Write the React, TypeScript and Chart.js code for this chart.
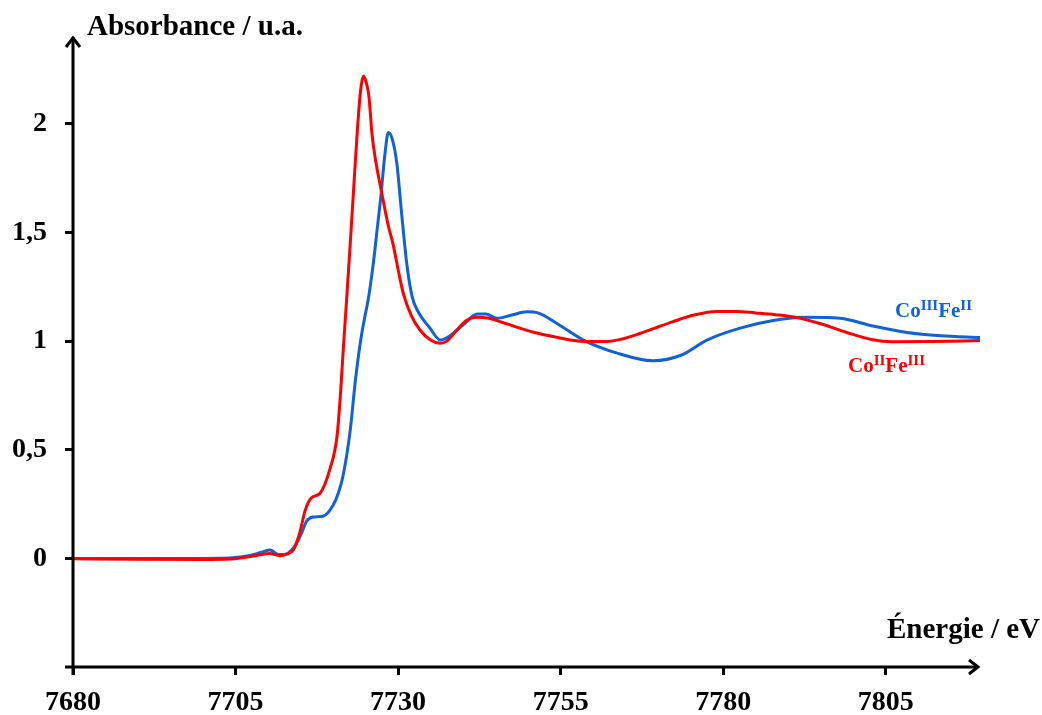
import React, { useEffect, useRef } from "react";
import { Chart, registerables } from "chart.js";

Chart.register(...registerables);

// CoII FeIII (red)
const redEnergy = [
  7680, 7690, 7700, 7704, 7706, 7708, 7710.3, 7711.8, 7712.8, 7713.9, 7714.8, 7715.7, 7716.6,
  7718, 7719.5, 7720.6, 7721.1, 7721.5, 7722.1, 7722.6, 7723.1, 7723.8, 7724.3, 7724.7, 7725.1, 7725.5,
  7726, 7726.5, 7727.5, 7728.5, 7729.2, 7730, 7730.8, 7732, 7733.4, 7735, 7736.5, 7737.5, 7739, 7740.5,
  7742, 7744, 7746, 7748, 7751, 7754, 7758, 7762, 7764.5, 7767.2, 7769.5, 7772.3, 7775.5, 7779, 7782,
  7785, 7788, 7791.1, 7795, 7799, 7803, 7806, 7812, 7819.5,
];
const redAbs = [
  -0.002, -0.004, -0.005, -0.003, 0.003, 0.012, 0.022, 0.012, 0.018, 0.04, 0.11, 0.22, 0.277,
  0.3, 0.41, 0.56, 0.74, 0.93, 1.2, 1.43, 1.67, 2.0, 2.17, 2.22, 2.19, 2.13,
  1.95, 1.84, 1.68, 1.53, 1.45, 1.33, 1.22, 1.12, 1.05, 1.005, 0.99, 1.0, 1.05, 1.095,
  1.11, 1.105, 1.087, 1.067, 1.04, 1.02, 1.0, 0.998, 1.01, 1.035, 1.06, 1.09, 1.12, 1.137, 1.137,
  1.13, 1.122, 1.11, 1.08, 1.04, 1.006, 0.997, 0.998, 1.003,
];

// CoIII FeII (blue)
const blueEnergy = [
  7680, 7690, 7700, 7705, 7707, 7709, 7710.3, 7711.6, 7712.5, 7713.5, 7714.4, 7715.2, 7715.9, 7716.9,
  7718.5, 7720, 7720.8, 7721.5, 7722.6, 7723.4, 7724.2, 7724.9, 7725.4, 7726.2, 7726.8, 7727.4, 7727.9,
  7728.5, 7729.1, 7729.8, 7730.6, 7731.4, 7732.2, 7733, 7734.9, 7736.5, 7738, 7740, 7742.2, 7743.5,
  7745.2, 7747.5, 7749.8, 7751.5, 7754.5, 7758.5, 7763.7, 7769.2, 7773.5, 7777.5, 7782.6, 7787.7,
  7792.9, 7798, 7803, 7808.3, 7813.4, 7819.5,
];
const blueAbs = [
  0.0, 0.0, 0.0, 0.004, 0.012, 0.028, 0.038, 0.018, 0.018, 0.035, 0.07, 0.12, 0.17, 0.19,
  0.195, 0.245, 0.3, 0.375, 0.58, 0.81, 0.995, 1.115, 1.19, 1.36, 1.52, 1.68, 1.84,
  1.96, 1.93, 1.82, 1.57, 1.34, 1.2, 1.14, 1.06, 1.005, 1.025, 1.075, 1.125, 1.125,
  1.105, 1.12, 1.135, 1.13, 1.08, 1.005, 0.945, 0.91, 0.935, 1.005, 1.06, 1.095,
  1.11, 1.105, 1.07, 1.04, 1.025, 1.017,
];

const xTicks = [7680, 7705, 7730, 7755, 7780, 7805];
const yTicks = [0, 0.5, 1, 1.5, 2];

const RED = "#FF0000";
const BLUE = "#0F62DA";
const FONT = "'Liberation Serif', 'Times New Roman', serif";

const overlay = {
  id: "overlay",
  afterDraw(chart: any) {
    const ctx = chart.ctx as CanvasRenderingContext2D;
    const { left, right, top, bottom } = chart.chartArea;
    ctx.save();
    ctx.strokeStyle = "#000";
    ctx.lineWidth = 3;
    ctx.lineCap = "butt";
    // y axis
    ctx.beginPath();
    ctx.moveTo(left, bottom + 8);
    ctx.lineTo(left, top);
    ctx.stroke();
    ctx.beginPath();
    ctx.moveTo(left - 7, top + 10);
    ctx.lineTo(left, top + 1);
    ctx.lineTo(left + 7, top + 10);
    ctx.stroke();
    // x axis
    ctx.beginPath();
    ctx.moveTo(left - 8, bottom);
    ctx.lineTo(right - 2, bottom);
    ctx.stroke();
    ctx.beginPath();
    ctx.moveTo(right - 11, bottom - 7);
    ctx.lineTo(right - 2, bottom);
    ctx.lineTo(right - 11, bottom + 7);
    ctx.stroke();

    // axis titles
    ctx.fillStyle = "#000";
    ctx.font = `bold 29px ${FONT}`;
    ctx.textBaseline = "alphabetic";
    ctx.textAlign = "left";
    ctx.fillText("Absorbance / u.a.", 87, 35);
    ctx.textAlign = "right";
    ctx.fillText("Énergie / eV", 1040, 638);

    // series labels with superscripts
    const drawLabel = (parts: [string, boolean][], x: number, y: number, color: string) => {
      ctx.fillStyle = color;
      ctx.textAlign = "left";
      let cx = x;
      for (const [t, sup] of parts) {
        ctx.font = sup ? `bold 15px ${FONT}` : `bold 21px ${FONT}`;
        ctx.fillText(t, cx, sup ? y - 7 : y);
        cx += ctx.measureText(t).width;
      }
    };
    drawLabel([["Co", false], ["III", true], ["Fe", false], ["II", true]], 895, 317, BLUE);
    drawLabel([["Co", false], ["II", true], ["Fe", false], ["III", true]], 848, 372, RED);
    ctx.restore();
  },
};

export default function App() {
  const ref = useRef<HTMLCanvasElement | null>(null);
  useEffect(() => {
    document.body.style.margin = "0";
    const canvas = ref.current;
    if (!canvas) return;
    const redData = redEnergy.map((x, i) => ({ x, y: redAbs[i] }));
    const blueData = blueEnergy.map((x, i) => ({ x, y: blueAbs[i] }));
    const chart = new Chart(canvas, {
      type: "line",
      data: {
        datasets: [
          {
            label: "CoIIFeIII",
            data: redData,
            borderColor: RED,
            borderWidth: 3,
            pointRadius: 0,
            cubicInterpolationMode: "monotone",
            fill: false,
          },
          {
            label: "CoIIIFeII",
            data: blueData,
            borderColor: BLUE,
            borderWidth: 3,
            pointRadius: 0,
            cubicInterpolationMode: "monotone",
            fill: false,
          },
        ],
      },
      options: {
        responsive: false,
        animation: false,
        layout: { padding: { top: 37, right: 62, left: 0, bottom: 0 } },
        plugins: { legend: { display: false }, tooltip: { enabled: false } },
        scales: {
          x: {
            type: "linear",
            min: 7680,
            max: 7819.5,
            afterFit(scale: any) {
              scale.height = 48;
            },
            afterBuildTicks(scale: any) {
              scale.ticks = xTicks.map((v) => ({ value: v }));
            },
            border: { display: false },
            grid: {
              display: true,
              drawOnChartArea: false,
              drawTicks: true,
              tickLength: 8,
              tickWidth: 3,
              tickColor: "#000",
            },
            ticks: {
              color: "#000",
              padding: 11,
              maxRotation: 0,
              autoSkip: false,
              font: { family: FONT, size: 28, weight: "bold" },
              callback: (v: any) => String(v),
            },
          },
          y: {
            type: "linear",
            min: -0.5,
            max: 2.4,
            afterFit(scale: any) {
              scale.width = 73;
            },
            afterBuildTicks(scale: any) {
              scale.ticks = yTicks.map((v) => ({ value: v }));
            },
            border: { display: false },
            grid: {
              display: true,
              drawOnChartArea: false,
              drawTicks: true,
              tickLength: 8,
              tickWidth: 3,
              tickColor: "#000",
            },
            ticks: {
              color: "#000",
              padding: 18,
              autoSkip: false,
              font: { family: FONT, size: 28, weight: "bold" },
              callback: (v: any) => String(v).replace(".", ","),
            },
          },
        },
      },
      plugins: [overlay],
    } as any);
    return () => chart.destroy();
  }, []);
  return <canvas ref={ref} width={1042} height={715} style={{ display: "block" }} />;
}
